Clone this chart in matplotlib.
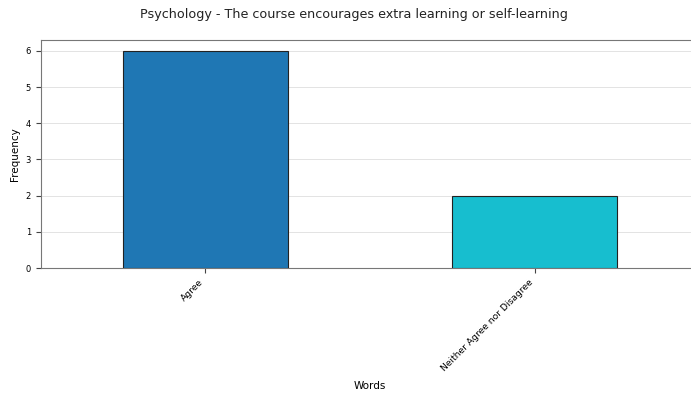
import matplotlib
matplotlib.use('Agg')
import matplotlib.pyplot as plt

# Response categories and their counts
categories = ['Agree', 'Neither Agree nor Disagree']
counts = [6, 2]
bar_colors = ['#1f77b4', '#17becf']

fig = plt.figure(figsize=(6.91, 3.96), dpi=100)
ax = fig.add_axes([0.059, 0.323, 0.953, 0.576])

ax.bar(range(len(categories)), counts, width=0.5, color=bar_colors,
       edgecolor='#222222', linewidth=0.8, zorder=3)

ax.set_xticks(range(len(categories)))
ax.set_xticklabels(categories, rotation=45, ha='right', fontsize=6.6)
ax.tick_params(axis='y', labelsize=6)
ax.tick_params(colors='#444444', labelcolor='black')
ax.set_xlim(-0.5, 1.5)
ax.set_ylim(0, 6.3)

for side in ax.spines.values():
    side.set_color('#777777')

ax.grid(axis='y', linestyle='-', color='#e3e3e3', linewidth=0.7, zorder=0)

ax.set_xlabel('Words', fontsize=7.5, labelpad=6)
ax.set_ylabel('Frequency', fontsize=7.5, labelpad=4)
ax.set_title('Psychology - The course encourages extra learning or self-learning',
             fontsize=9.2, pad=16, x=0.475, color='#222222')

fig.savefig('out.png', dpi=100)
